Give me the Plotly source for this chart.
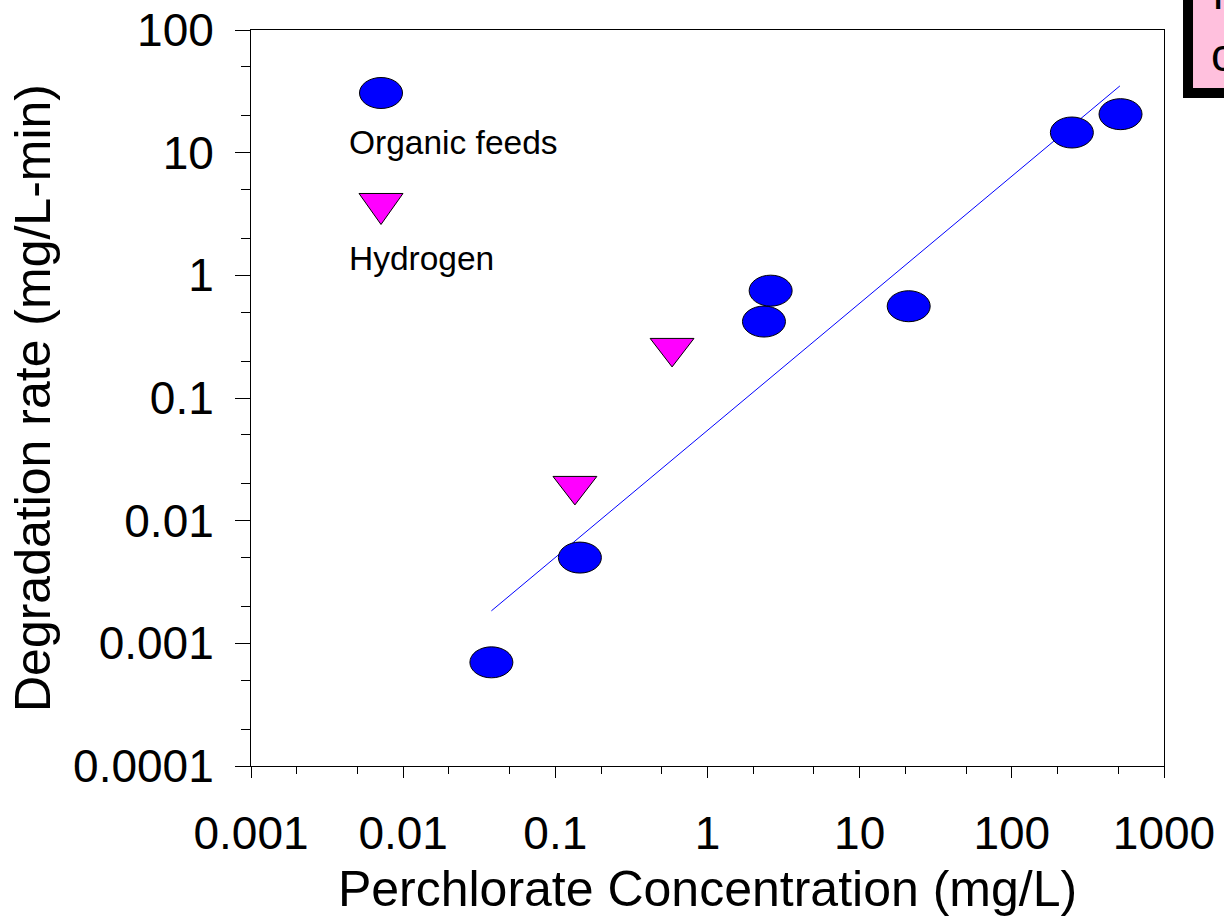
import plotly.graph_objects as go

# Perchlorate degradation data
organic_conc = [0.038, 0.145, 2.35, 2.6, 21, 248, 518]
organic_rate = [0.0007, 0.005, 0.42, 0.75, 0.56, 14.6, 20.6]

hydrogen_conc = [0.1345, 0.585]
hydrogen_rate = [0.0192, 0.256]

# Power-law fit line endpoints
fit_conc = [0.038, 513]
fit_rate = [0.00184, 35]

x_tickvals = [0.001, 0.01, 0.1, 1, 10, 100, 1000]
x_ticktext = ["0.001", "0.01", "0.1", "1", "10", "100", "1000"]
y_tickvals = [0.0001, 0.001, 0.01, 0.1, 1, 10, 100]
y_ticktext = ["0.0001", "0.001", "0.01", "0.1", "1", "10", "100"]

FONT = "Liberation Sans, Arial, sans-serif"
ORG_COLOR = "#0000FF"
H2_COLOR = "#FF00FF"

# plot area size in pixels and decades per axis (used to size the ellipse markers)
PLOT_W, PLOT_H = 913, 736
X_DECADES, Y_DECADES = 6, 6
ELL_HALF_W, ELL_HALF_H = 21.5, 15.5

fig = go.Figure()

fig.add_trace(go.Scatter(
    x=fit_conc, y=fit_rate, mode="lines",
    line=dict(color=ORG_COLOR, width=1), showlegend=False, hoverinfo="skip",
))

fig.add_trace(go.Scatter(
    x=hydrogen_conc, y=hydrogen_rate, mode="markers", name="Hydrogen",
    marker=dict(symbol="triangle-down", size=38, color=H2_COLOR,
                line=dict(color="black", width=1)),
    showlegend=False,
))

# Organic feed points drawn as ellipses centred on the data values
fx = 10 ** (ELL_HALF_W * X_DECADES / PLOT_W)
fy = 10 ** (ELL_HALF_H * Y_DECADES / PLOT_H)
shapes = []
for cx, cy in zip(organic_conc, organic_rate):
    shapes.append(dict(
        type="circle", xref="x", yref="y",
        x0=cx / fx, x1=cx * fx, y0=cy / fy, y1=cy * fy,
        fillcolor=ORG_COLOR, line=dict(color="black", width=1), layer="above",
    ))

# Key glyphs for the in-plot legend
shapes.append(dict(
    type="circle", xref="paper", yref="paper",
    xsizemode="pixel", ysizemode="pixel",
    xanchor=0.1424, yanchor=0.9144,
    x0=-21.5, x1=21.5, y0=-15.5, y1=15.5,
    fillcolor=ORG_COLOR, line=dict(color="black", width=1),
))
shapes.append(dict(
    type="path", xref="paper", yref="paper",
    xsizemode="pixel", ysizemode="pixel",
    xanchor=0.1424, yanchor=0.7575,
    path="M-22,15 L22,15 L0,-16 Z",
    fillcolor=H2_COLOR, line=dict(color="black", width=1),
))

# Boxed note at the top-right edge of the page
shapes.append(dict(
    type="rect", xref="paper", yref="paper",
    x0=1.0263, x1=1.12, y0=0.9144, y1=1.1,
    fillcolor="#FFC0DD", line=dict(color="black", width=10),
))

annotations = [
    dict(text="Organic feeds", x=0.1051, y=0.8478, xref="paper", yref="paper",
         xanchor="left", yanchor="middle", showarrow=False,
         font=dict(family=FONT, size=33.5, color="black")),
    dict(text="Hydrogen", x=0.1051, y=0.6902, xref="paper", yref="paper",
         xanchor="left", yanchor="middle", showarrow=False,
         font=dict(family=FONT, size=33.5, color="black")),
    dict(text="l", x=1.0515, y=1.050, xref="paper", yref="paper",
         xanchor="left", yanchor="middle", showarrow=False,
         font=dict(family=FONT, size=46, color="black")),
    dict(text="c", x=1.0495, y=0.966, xref="paper", yref="paper",
         xanchor="left", yanchor="middle", showarrow=False,
         font=dict(family=FONT, size=46, color="black")),
]

axis_common = dict(
    type="log", showgrid=False, zeroline=False,
    showline=True, linecolor="black", linewidth=1, mirror=True,
    ticks="outside", tickcolor="black", tickwidth=1,
    tickfont=dict(family=FONT, size=46, color="black"),
)

fig.update_layout(
    width=1224, height=917,
    margin=dict(l=251, r=60, t=30, b=151, autoexpand=False),
    paper_bgcolor="white", plot_bgcolor="white",
    shapes=shapes, annotations=annotations,
    showlegend=False,
    xaxis=dict(**axis_common, range=[-3, 3], ticklen=11,
               tickvals=x_tickvals, ticktext=x_ticktext,
               ticklabelstandoff=16,
               minor=dict(ticks="outside", ticklen=7, tickcolor="black",
                          tickwidth=1, showgrid=False),
               title=dict(text="Perchlorate Concentration (mg/L)", standoff=29,
                          font=dict(family=FONT, size=50, color="black"))),
    yaxis=dict(**axis_common, range=[-4, 2], ticklen=15,
               tickvals=y_tickvals, ticktext=y_ticktext,
               ticklabelstandoff=12,
               minor=dict(ticks="outside", ticklen=9, tickcolor="black",
                          tickwidth=1, showgrid=False),
               title=dict(text="Degradation rate (mg/L-min)", standoff=6,
                          font=dict(family=FONT, size=50, color="black"))),
)
fig.update_xaxes(automargin=False)
fig.update_yaxes(automargin=False)

fig.write_html("out.html")
